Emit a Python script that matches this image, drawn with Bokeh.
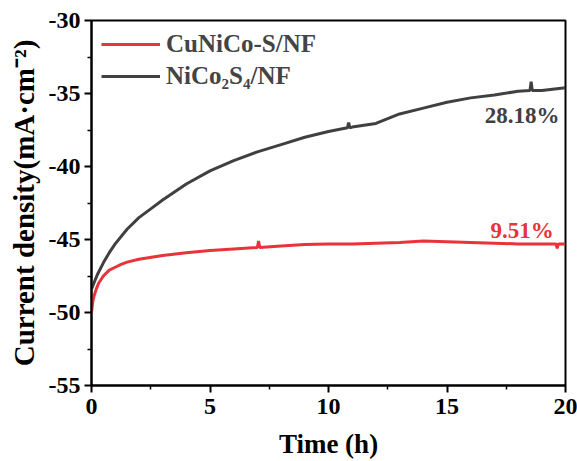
from bokeh.plotting import figure
from bokeh.models import Range1d, Legend, LegendItem, Label, FixedTicker
from bokeh.embed import file_html
from bokeh.resources import INLINE

# data
t_cu = [0, 0.05, 0.1, 0.2, 0.3, 0.5, 0.75, 1, 1.25, 1.5, 2, 3, 4, 5, 6, 7, 7.05, 7.1, 8, 9, 10, 11, 12, 13, 14, 15, 16, 17, 18, 19, 19.6, 19.65, 19.7, 20]
j_cu = [-50.0, -49.3, -48.9, -48.4, -48.0, -47.5, -47.1, -46.9, -46.7, -46.55, -46.35, -46.1, -45.9, -45.75, -45.65, -45.55, -45.1, -45.55, -45.45, -45.35, -45.3, -45.3, -45.25, -45.2, -45.1, -45.15, -45.2, -45.25, -45.3, -45.3, -45.3, -45.6, -45.3, -45.3]

t_nico = [0, 0.1, 0.25, 0.5, 0.75, 1, 1.5, 2, 2.5, 3, 4, 5, 6, 7, 8, 9, 10, 10.8, 10.85, 10.9, 11, 12, 13, 14, 15, 16, 17, 18, 18.5, 18.55, 18.6, 19, 20]
j_nico = [-48.4, -48.0, -47.4, -46.6, -45.9, -45.3, -44.3, -43.5, -42.9, -42.3, -41.2, -40.3, -39.6, -39.0, -38.5, -38.0, -37.6, -37.35, -37.0, -37.35, -37.3, -37.05, -36.4, -36.0, -35.6, -35.3, -35.1, -34.85, -34.8, -34.2, -34.8, -34.8, -34.6]

series_names = ["CuNiCo-S/NF", "NiCo\u2082S\u2084/NF"]
retention = ["9.51%", "28.18%"]
x_ticks = [0, 5, 10, 15, 20]
x_minor = [2.5, 7.5, 12.5, 17.5]
y_ticks = [-55, -50, -45, -40, -35, -30]
y_minor = [-52.5, -47.5, -42.5, -37.5, -32.5]
x_title = "Time (h)"
y_title = "Current density(mA\u00b7cm\u207b\u00b2)"

RED = "#e8333a"
GRAY = "#404040"
FONT = "Liberation Serif"

p = figure(width=577, height=461, output_backend="svg", toolbar_location=None,
           x_range=Range1d(0, 20), y_range=Range1d(-55, -30),
           min_border_left=91, min_border_right=12, min_border_top=20, min_border_bottom=76)
p.grid.visible = False
p.outline_line_color = "black"
p.outline_line_width = 2
p.background_fill_color = "white"
p.border_fill_color = "white"

r_cu = p.line(t_cu, j_cu, line_color=RED, line_width=3)
r_ni = p.line(t_nico, j_nico, line_color=GRAY, line_width=3)

for ax in (p.xaxis[0], p.yaxis[0]):
    ax.axis_line_width = 2
    ax.major_tick_line_width = 2
    ax.minor_tick_line_width = 1.5
    ax.major_tick_out = 7
    ax.major_tick_in = 0
    ax.minor_tick_out = 4
    ax.minor_tick_in = 0
    ax.major_label_text_font = FONT
    ax.major_label_text_font_style = "bold"
    ax.major_label_text_font_size = "24px"
    ax.major_label_text_color = "black"
    ax.major_label_text_line_height = 1.0
    ax.axis_label_text_font = FONT
    ax.axis_label_text_font_style = "bold"
    ax.axis_label_text_color = "black"
    ax.axis_label_text_line_height = 1.0

p.xaxis.axis_label_text_font_size = "27px"
p.yaxis.axis_label_text_font_size = "29px"
p.xaxis.ticker = FixedTicker(ticks=x_ticks, minor_ticks=x_minor)
p.yaxis.ticker = FixedTicker(ticks=y_ticks, minor_ticks=y_minor)
p.xaxis.major_label_overrides = {v: str(v) for v in x_ticks}
p.yaxis.major_label_overrides = {v: str(v) for v in y_ticks}
p.xaxis.axis_label = x_title
p.yaxis.axis_label = y_title
p.xaxis.major_label_standoff = 6
p.yaxis.major_label_standoff = 4
p.xaxis.axis_label_standoff = 12
p.yaxis.axis_label_standoff = 6

legend = Legend(items=[LegendItem(label=series_names[0], renderers=[r_cu]),
                       LegendItem(label=series_names[1], renderers=[r_ni])],
                location="top_left", border_line_alpha=0, background_fill_alpha=0,
                label_text_font=FONT, label_text_font_style="bold", label_text_font_size="25px",
                glyph_width=59, glyph_height=24, label_standoff=6, spacing=4,
                margin=6, padding=4)
p.add_layout(legend)

p.add_layout(Label(x=19.75, y=-36.5, text=retention[1], text_color=GRAY, text_font=FONT,
                   text_font_style="bold", text_font_size="23px", text_align="right",
                   text_baseline="middle"))
p.add_layout(Label(x=19.5, y=-44.4, text=retention[0], text_color=RED, text_font=FONT,
                   text_font_style="bold", text_font_size="23px", text_align="right",
                   text_baseline="middle"))

open("out.html", "w").write(file_html(p, INLINE))
